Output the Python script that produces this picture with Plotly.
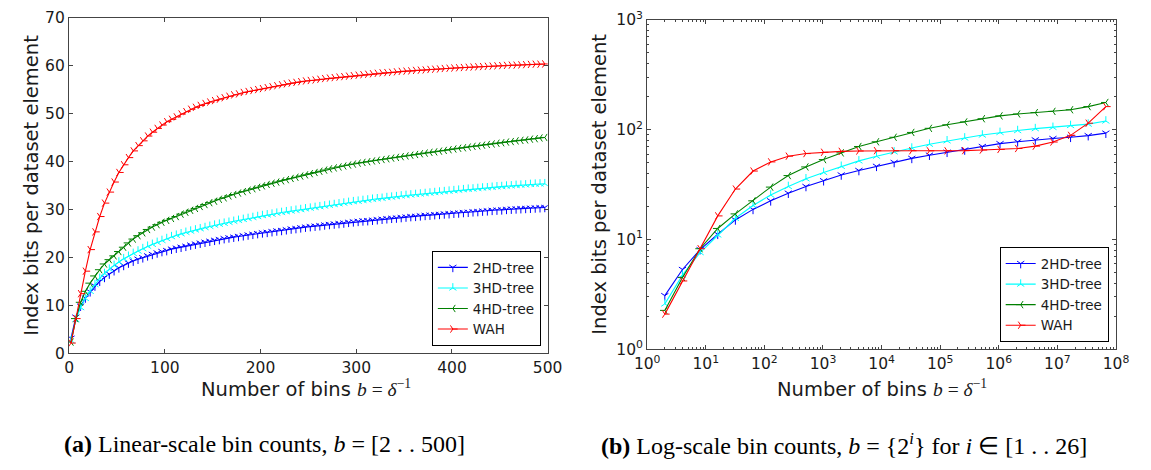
import plotly.graph_objects as go

# ---------------- data ----------------
bins_lin = list(range(2, 501, 5))          # b = 2, 7, ..., 497

hd2_lin = [3.1, 7.5, 9.8, 11.5, 12.8, 14.0, 15.0, 15.8, 16.5, 17.2,
           17.8, 18.3, 18.8, 19.2, 19.6, 19.9, 20.3, 20.6, 20.9, 21.2,
           21.4, 21.7, 21.9, 22.1, 22.3, 22.55, 22.75, 22.95, 23.15, 23.35,
           23.55, 23.7, 23.9, 24.05, 24.2, 24.35, 24.5, 24.65, 24.8, 24.95,
           25.1, 25.2, 25.35, 25.5, 25.6, 25.75, 25.9, 26.0, 26.15, 26.3,
           26.4, 26.5, 26.6, 26.75, 26.85, 26.95, 27.05, 27.15, 27.3, 27.4,
           27.5, 27.6, 27.65, 27.75, 27.85, 27.95, 28.05, 28.15, 28.2, 28.3,
           28.4, 28.5, 28.55, 28.65, 28.75, 28.8, 28.9, 28.95, 29.05, 29.1,
           29.2, 29.25, 29.35, 29.4, 29.5, 29.55, 29.65, 29.7, 29.8, 29.85,
           29.9, 30.0, 30.05, 30.1, 30.15, 30.2, 30.25, 30.3, 30.35, 30.4]

hd3_lin = [2.6, 7.0, 9.5, 11.4, 12.9, 14.3, 15.6, 16.6, 17.5, 18.3,
           19.0, 19.7, 20.2, 20.8, 21.3, 21.8, 22.3, 22.7, 23.1, 23.5,
           23.9, 24.3, 24.6, 24.9, 25.2, 25.45, 25.7, 25.95, 26.2, 26.45,
           26.7, 26.9, 27.1, 27.3, 27.5, 27.7, 27.9, 28.1, 28.3, 28.5,
           28.7, 28.85, 29.0, 29.2, 29.35, 29.5, 29.65, 29.8, 29.95, 30.1,
           30.25, 30.4, 30.55, 30.7, 30.85, 31.0, 31.15, 31.3, 31.45, 31.6,
           31.7, 31.85, 31.95, 32.1, 32.2, 32.3, 32.45, 32.55, 32.65, 32.8,
           32.9, 33.0, 33.1, 33.2, 33.3, 33.4, 33.5, 33.6, 33.7, 33.8,
           33.9, 34.0, 34.1, 34.2, 34.25, 34.35, 34.45, 34.5, 34.6, 34.7,
           34.75, 34.85, 34.9, 35.0, 35.05, 35.1, 35.2, 35.25, 35.3, 35.35]

hd4_lin = [2.3, 7.2, 10.6, 12.9, 14.6, 16.1, 17.4, 18.6, 19.5, 20.3,
           21.2, 22.1, 23.0, 23.8, 24.5, 25.1, 25.8, 26.3, 26.8, 27.3,
           27.7, 28.1, 28.5, 29.0, 29.4, 29.8, 30.2, 30.6, 31.0, 31.4,
           31.7, 32.1, 32.4, 32.8, 33.1, 33.4, 33.7, 34.0, 34.3, 34.6,
           34.9, 35.2, 35.45, 35.7, 35.95, 36.2, 36.45, 36.7, 36.95, 37.2,
           37.45, 37.7, 37.95, 38.2, 38.45, 38.65, 38.85, 39.05, 39.25, 39.45,
           39.65, 39.8, 39.95, 40.1, 40.25, 40.4, 40.55, 40.7, 40.85, 41.0,
           41.15, 41.3, 41.45, 41.6, 41.75, 41.9, 42.0, 42.15, 42.3, 42.45,
           42.6, 42.75, 42.85, 43.0, 43.15, 43.25, 43.4, 43.55, 43.65, 43.8,
           43.9, 44.05, 44.15, 44.3, 44.4, 44.5, 44.65, 44.75, 44.9, 45.0]

wah_lin = [2.1, 7.2, 12.4, 17.1, 21.6, 25.3, 28.5, 31.3, 33.6, 35.7,
           37.7, 39.3, 40.8, 42.2, 43.3, 44.3, 45.3, 46.1, 46.9, 47.6,
           48.3, 48.8, 49.3, 49.9, 50.4, 50.9, 51.3, 51.7, 52.1, 52.4,
           52.7, 53.0, 53.3, 53.6, 53.9, 54.1, 54.4, 54.6, 54.8, 55.0,
           55.2, 55.4, 55.6, 55.8, 56.0, 56.2, 56.35, 56.5, 56.65, 56.8,
           56.9, 57.0, 57.15, 57.3, 57.4, 57.5, 57.6, 57.7, 57.8, 57.9,
           58.0, 58.1, 58.2, 58.3, 58.4, 58.5, 58.55, 58.6, 58.7, 58.8,
           58.85, 58.9, 59.0, 59.05, 59.1, 59.2, 59.25, 59.3, 59.4, 59.45,
           59.5, 59.55, 59.6, 59.65, 59.7, 59.75, 59.8, 59.85, 59.9, 59.95,
           60.0, 60.05, 60.1, 60.1, 60.15, 60.2, 60.25, 60.3, 60.3, 60.35]

exps = list(range(1, 27))                  # b = 2^i, i = 1..26
bins_log = [2 ** i for i in exps]

hd2_log = [3.08, 5.33, 8.08, 11.15, 15.07, 18.8, 22.5, 26.4, 30.4, 34.3, 38.7, 42.5, 46.4,
           50.3, 54.8, 58.6, 62.3, 65.3, 70.3, 74.6, 77.6, 80.8, 83.1, 85.3, 88.3, 93.0]
hd3_log = [2.59, 4.73, 7.6, 11.0, 15.6, 20.4, 25.4, 30.4, 35.7, 40.8, 46.4, 52.0, 57.4,
           62.8, 68.0, 73.7, 79.2, 84.1, 89.4, 94.4, 98.2, 102.2, 105.0, 109.2, 112.4, 120.0]
hd4_log = [2.26, 4.51, 8.24, 12.6, 17.1, 22.5, 30.0, 38.2, 45.8, 53.4, 61.5, 70.3, 77.6,
           85.3, 94.4, 102.9, 110.8, 117.7, 125.8, 133.6, 139.0, 143.0, 146.8, 151.9, 162.3, 177.0]
wah_log = [2.09, 4.19, 8.24, 16.4, 28.8, 42.0, 50.9, 57.4, 60.6, 62.3, 63.5, 64.0, 64.4,
           64.4, 64.3, 64.2, 64.2, 64.5, 65.3, 66.1, 67.4, 70.8, 77.2, 88.8, 114.6, 162.3]

series_names = ["2HD-tree", "3HD-tree", "4HD-tree", "WAH"]
series_colors = ["#0000ff", "#00ffff", "#008000", "#ff0000"]
series_symbols = ["y-down", "y-up", "y-left", "y-right"]

lin_x_ticks = [0, 100, 200, 300, 400, 500]
lin_y_ticks = [0, 10, 20, 30, 40, 50, 60, 70]
log_x_ticks = [10 ** k for k in range(0, 9)]
log_x_text = ["10<sup>%d</sup>" % k for k in range(0, 9)]
log_y_ticks = [10 ** k for k in range(0, 4)]
log_y_text = ["10<sup>%d</sup>" % k for k in range(0, 4)]
log_x_minor = [m * 10 ** k for k in range(0, 8) for m in range(2, 10)]
log_y_minor = [m * 10 ** k for k in range(0, 3) for m in range(2, 10)]

# ---------------- layout helpers ----------------
W, H = 1151, 470
def fx(p):
    return p / W
def fy(p):
    return 1 - p / H

SANS = "DejaVu Sans"
SERIF = "Liberation Serif"
TXT = "#1a1a1a"
SPINE = "#444444"

fig = go.Figure()

lin_data = [hd2_lin, hd3_lin, hd4_lin, wah_lin]
log_data = [hd2_log, hd3_log, hd4_log, wah_log]

for name, col, sym, ys in zip(series_names, series_colors, series_symbols, lin_data):
    fig.add_trace(go.Scatter(
        x=bins_lin, y=ys, name=name, mode="lines+markers",
        line=dict(color=col, width=1.1),
        marker=dict(symbol=sym, size=6, color=col, line=dict(color=col, width=1)),
        xaxis="x", yaxis="y", legend="legend"))

for name, col, sym, ys in zip(series_names, series_colors, series_symbols, log_data):
    fig.add_trace(go.Scatter(
        x=bins_log, y=ys, name=name, mode="lines+markers",
        line=dict(color=col, width=1.1),
        marker=dict(symbol=sym, size=6, color=col, line=dict(color=col, width=1)),
        xaxis="x2", yaxis="y2", legend="legend2"))

axis_common = dict(showline=True, linecolor=SPINE, linewidth=1.3, mirror="ticks",
                   ticks="inside", ticklen=4, tickwidth=1, tickcolor=SPINE,
                   showgrid=False, zeroline=False, ticklabeloverflow="allow",
                   tickfont=dict(family=SANS, size=15.5, color=TXT))

minor_x = dict(ticks="inside", ticklen=2, tickcolor=SPINE, showgrid=False,
               tickmode="array", tickvals=log_x_minor)
minor_y = dict(ticks="inside", ticklen=2, tickcolor=SPINE, showgrid=False,
               tickmode="array", tickvals=log_y_minor)

fig.update_layout(
    width=W, height=H,
    margin=dict(l=0, r=0, t=0, b=0),
    paper_bgcolor="white", plot_bgcolor="white",
    xaxis=dict(domain=[fx(57.5), fx(548)], range=[0, 500], anchor="y",
               tickvals=lin_x_ticks, **axis_common),
    yaxis=dict(domain=[fy(357.3), fy(7)], range=[0, 70], anchor="x",
               tickvals=lin_y_ticks, **axis_common),
    xaxis2=dict(domain=[fx(650), fx(1130.5)], type="log", range=[0, 8], anchor="y2",
                tickvals=log_x_ticks, ticktext=log_x_text, minor=minor_x,
                **axis_common),
    yaxis2=dict(domain=[fy(353.3), fy(9.3)], type="log", range=[0, 3], anchor="x2",
                tickvals=log_y_ticks, ticktext=log_y_text, minor=minor_y,
                **axis_common),
    legend=dict(x=fx(541), y=fy(350), xanchor="right", yanchor="bottom",
                bgcolor="white", bordercolor="black", borderwidth=1,
                font=dict(family=SANS, size=13.5, color=TXT), tracegroupgap=0),
    legend2=dict(x=fx(1123), y=fy(346), xanchor="right", yanchor="bottom",
                 bgcolor="white", bordercolor="black", borderwidth=1,
                 font=dict(family=SANS, size=13.5, color=TXT), tracegroupgap=0),
    showlegend=True,
)

ylab = "Index bits per dataset element"
xlab = ("Number of bins <span style='font-family:%s'><i>b</i> = <i>δ</i>"
        "<sup>−1</sup></span>" % SERIF)

annots = [
    dict(x=fx(19), y=fy(182), text=ylab, textangle=-90, font=dict(family=SANS, size=19.5, color=TXT)),
    dict(x=fx(601), y=fy(181), text=ylab, textangle=-90, font=dict(family=SANS, size=19.5, color=TXT)),
    dict(x=fx(300), y=fy(394), text=xlab, font=dict(family=SANS, size=19.5, color=TXT)),
    dict(x=fx(891), y=fy(394), text=xlab, font=dict(family=SANS, size=19.5, color=TXT)),
    dict(x=fx(258), y=fy(452),
         text="<b>(a)</b> Linear-scale bin counts, <i>b</i> = [2 . . 500]",
         font=dict(family=SERIF, size=24, color="black")),
    dict(x=fx(852), y=fy(452),
         text="<b>(b)</b> Log-scale bin counts, <i>b</i> = {2<sup><i>i</i></sup>} for <i>i</i> ∈ [1 . . 26]",
         font=dict(family=SERIF, size=24, color="black")),
]
for a in annots:
    fig.add_annotation(xref="paper", yref="paper", showarrow=False,
                       xanchor="center", yanchor="middle", **a)

fig.write_html("out.html")
